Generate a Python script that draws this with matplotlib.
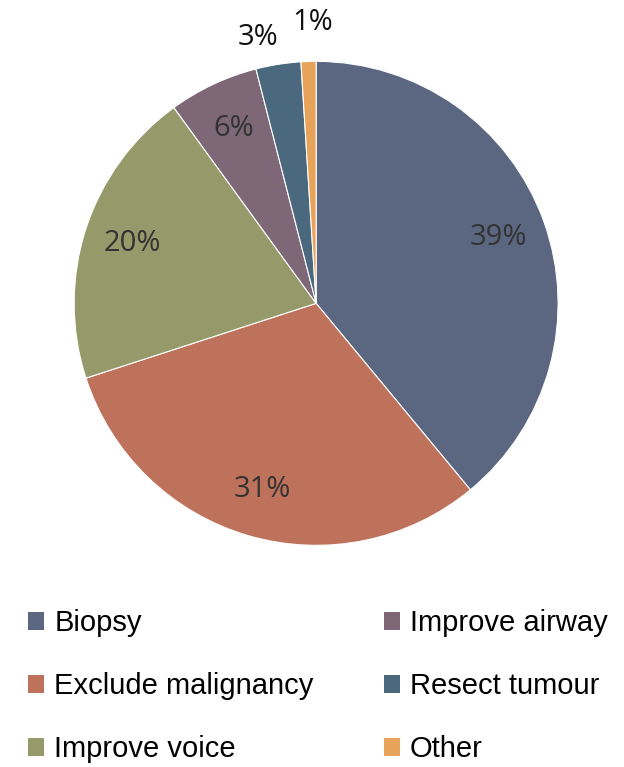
import matplotlib
matplotlib.use("Agg")
import matplotlib.pyplot as plt
from matplotlib.patches import Patch
import numpy as np

categories = ["Biopsy", "Exclude malignancy", "Improve voice",
              "Improve airway", "Resect tumour", "Other"]
shares = [39, 31, 20, 6, 3, 1]
colors = ["#5b6780", "#bf725b", "#969a6b", "#7e6777", "#4a687e", "#e8a35a"]

fig = plt.figure(figsize=(6.24, 7.67), dpi=100)
ax = fig.add_axes([0.1186, 0.289, 0.776, 0.631])

wedges, _, pct_texts = ax.pie(
    shares, colors=colors, startangle=90, counterclock=False,
    autopct="%d%%", pctdistance=0.8,
    wedgeprops=dict(edgecolor="white", linewidth=0.8),
    textprops=dict(fontsize=21, color="#333333", family="Open Sans"),
)
ax.set_xlim(-1, 1)
ax.set_ylim(-1, 1)
ax.set_aspect("equal")

# tiny slices get their labels pushed outside the rim
outside = {4: (1.125, 3.3), 5: (1.16, -1)}
for i, (dist, shift) in outside.items():
    w = wedges[i]
    ang = np.deg2rad((w.theta1 + w.theta2) / 2 + shift)
    pct_texts[i].set_position((dist * np.cos(ang), dist * np.sin(ang)))
    pct_texts[i].set_color("#111111")

handles = [Patch(facecolor=c, edgecolor="none") for c in colors]
fig.legend(handles, categories, ncol=2, loc="upper left",
           bbox_to_anchor=(0.003, 0.240), frameon=False,
           prop=dict(family="Liberation Sans", size=21),
           handlelength=0.55, handleheight=0.55, handletextpad=0.35,
           labelspacing=1.2, columnspacing=2.4)

fig.savefig("out.png", dpi=100, facecolor="white")
